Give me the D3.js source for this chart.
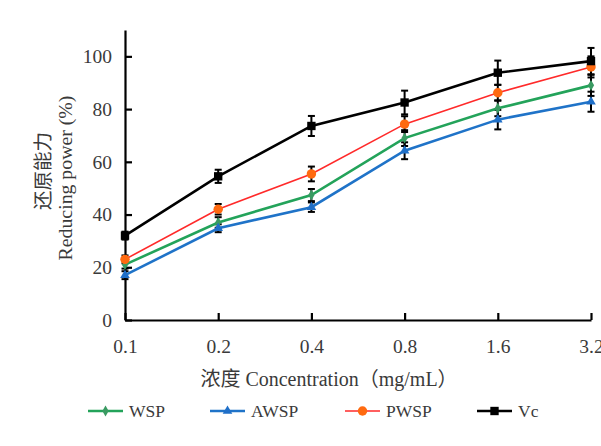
<!DOCTYPE html>
<html>
<head>
<meta charset="utf-8">
<script src="https://cdn.jsdelivr.net/npm/d3@7"></script>
<style>
  body { margin: 0; background: #fff; }
  text { font-family: "Liberation Serif", "Noto Sans CJK SC", serif; fill: #3a3a3a; }
</style>
</head>
<body>
<div class="chart"></div>
<script>
// concentrations (mg/mL)
const concentrations = ["0.1", "0.2", "0.4", "0.8", "1.6", "3.2"]
const yTicks = [0, 20, 40, 60, 80, 100]

const wspValues  = [21, 37, 47.4, 69, 80.3, 89]
const awspValues = [17, 34.8, 42.8, 64.2, 76, 82.8]
const pwspValues = [23, 42, 55.4, 74.3, 86.2, 96]
const vcValues   = [32, 54.5, 73.6, 82.5, 93.8, 98.2]

const wspErr  = [1.5, 2, 2.3, 3, 3, 4]
const awspErr = [1.5, 1.5, 1.8, 3.2, 3.7, 3.8]
const pwspErr = [1.5, 2, 2.8, 3, 3, 4]
const vcErr   = [1.5, 2.5, 3.8, 4.5, 4.6, 5]

const seriesNames = ["WSP", "AWSP", "PWSP", "Vc"]

const series = [
    {name: "WSP", values: wspValues, err: wspErr, line: "#23a35a", fill: "#3a9a62", marker: "diamond", lw: 2.6},
    {name: "AWSP", values: awspValues, err: awspErr, line: "#1f73c8", fill: "#1f6fc8", marker: "triangle", lw: 2.6},
    {name: "PWSP", values: pwspValues, err: pwspErr, line: "#ff2a2a", fill: "#ff6a10", marker: "circle", lw: 1.6},
    {name: "Vc", values: vcValues, err: vcErr, line: "#000", fill: "#000", marker: "square", lw: 2.6}
]

const width = 601, height = 446

const svg = d3.select(".chart")
    .append("svg")
        .attr("width", width)
        .attr("height", height)

let x = d3.scalePoint()
    .domain(concentrations)
    .range([125, 591])

let y = d3.scaleLinear()
    .domain([0, 110])
    .range([320, 30])

// axes
const xAxis = svg.append("g")
    .attr("transform", "translate(0,320)")
    .call(d3.axisBottom(x).tickSizeInner(-7).tickSizeOuter(0).tickPadding(19))
xAxis.selectAll("text").attr("font-size", 19.5)

const yAxis = svg.append("g")
    .attr("transform", "translate(125,0)")
    .call(d3.axisLeft(y).tickValues(yTicks).tickSizeInner(-7).tickSizeOuter(0).tickPadding(13))
yAxis.selectAll("text").attr("font-size", 19.5)

svg.selectAll(".domain, .tick line")
    .attr("stroke", "#000")
    .attr("stroke-width", 2.2)

// axis titles
svg.append("text")
    .attr("transform", "translate(50,171) rotate(-90)")
    .attr("text-anchor", "middle")
    .attr("font-size", 19.5)
    .text("还原能力")

svg.append("text")
    .attr("transform", "translate(72,178) rotate(-90)")
    .attr("text-anchor", "middle")
    .attr("font-size", 19.8)
    .text("Reducing power (%)")

svg.append("text")
    .attr("x", 329)
    .attr("y", 386)
    .attr("text-anchor", "middle")
    .attr("font-size", 20)
    .text("浓度 Concentration（mg/mL）")

function markerPath(type) {
    if (type == "diamond") return d3.symbol(d3.symbolDiamond, 34)()
    if (type == "triangle") return d3.symbol(d3.symbolTriangle, 40)()
    if (type == "circle") return d3.symbol(d3.symbolCircle, 70)()
    return d3.symbol(d3.symbolSquare, 70)()
}

const line = d3.line()
    .x(function(d, i) { return x(concentrations[i]) })
    .y(function(d) { return y(d) })

// error bars (drawn under lines)
series.forEach(s => {
    const g = svg.append("g").attr("stroke", "#000").attr("stroke-width", 2)
    s.values.forEach((v, i) => {
        const cx = x(concentrations[i])
        g.append("line").attr("x1", cx).attr("x2", cx).attr("y1", y(v - s.err[i])).attr("y2", y(v + s.err[i]))
        g.append("line").attr("x1", cx - 3.5).attr("x2", cx + 3.5).attr("y1", y(v - s.err[i])).attr("y2", y(v - s.err[i]))
        g.append("line").attr("x1", cx - 3.5).attr("x2", cx + 3.5).attr("y1", y(v + s.err[i])).attr("y2", y(v + s.err[i]))
    })
})

series.forEach(s => {
    svg.append("path")
        .datum(s.values)
        .attr("fill", "none")
        .attr("stroke", s.line)
        .attr("stroke-width", s.lw)
        .attr("d", line)

    svg.selectAll(".m-" + s.name)
        .data(s.values)
        .enter()
        .append("path")
            .attr("transform", function(d, i) { return "translate(" + x(concentrations[i]) + "," + y(d) + ")" })
            .attr("d", markerPath(s.marker))
            .attr("fill", s.fill)
})

// legend
const legendX = [88, 210, 345, 477]
series.forEach((s, i) => {
    const g = svg.append("g").attr("transform", "translate(" + legendX[i] + ",411)")
    g.append("line").attr("x1", 0).attr("x2", 35).attr("stroke", s.line).attr("stroke-width", s.lw)
    g.append("path").attr("transform", "translate(17.5,0)").attr("d", markerPath(s.marker)).attr("fill", s.fill)
    g.append("text").attr("x", 41).attr("y", 6).attr("font-size", 17.5).text(seriesNames[i])
})
</script>
</body>
</html>
